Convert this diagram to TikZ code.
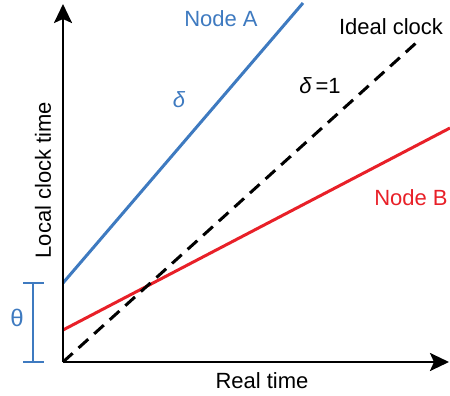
\documentclass[tikz,border=0pt]{standalone}
\usepackage{fontspec}
\setmainfont{Liberation Sans}
\usetikzlibrary{arrows.meta}
\definecolor{nodeblue}{RGB}{62,122,192}
\definecolor{nodered}{RGB}{232,32,40}
\begin{document}
\begin{tikzpicture}[x=1pt,y=-1pt,font=\fontsize{22}{26}\selectfont]
\useasboundingbox (0,0) rectangle (450,396);
\coordinate (O) at (63,362);
\coordinate (ytip) at (63,4);
\coordinate (xtip) at (449,362);
\coordinate (a0) at (63,283);
\coordinate (a1) at (303,3);
\coordinate (b0) at (63,330);
\coordinate (b1) at (450,128);
\coordinate (c1) at (416,43);
\coordinate (t0) at (33,283);
\coordinate (t1) at (33,362);

\path[draw,line width=3pt,nodeblue] (a0) -- (a1);
\path[draw,line width=3pt,nodered] (b0) -- (b1);
\path[draw,line width=3pt,dash pattern=on 13pt off 8pt] (O) -- (c1);
\path[draw,line width=2.6pt,-{Stealth[length=19pt,width=18pt,inset=4pt]}] (O) -- (ytip);
\path[draw,line width=2.6pt,-{Stealth[length=19pt,width=18pt,inset=4pt]}] (O) -- (xtip);
\path[draw,line width=2pt,nodeblue] (t0) -- (t1);
\path[draw,line width=2pt,nodeblue] ([xshift=-10pt]t0) -- ([xshift=11pt]t0);
\path[draw,line width=2pt,nodeblue] ([xshift=-10pt]t1) -- ([xshift=11pt]t1);

\node[nodeblue] (nodeA) at (221,19) {Node A};
\node (ideal) at (391,27) {Ideal clock};
\node (one) at (320,86) {\textit{δ}\,=1};
\node[nodeblue] (delta) at (179,100) {\textit{δ}};
\node[nodered] (nodeB) at (411,198) {Node B};
\node[nodeblue,font=\fontsize{24}{28}\selectfont] (theta) at (17,318) {θ};
\node[rotate=90] (ylab) at (43,180) {Local clock time};
\node (xlab) at (262,381) {Real time};
\end{tikzpicture}
\end{document}
